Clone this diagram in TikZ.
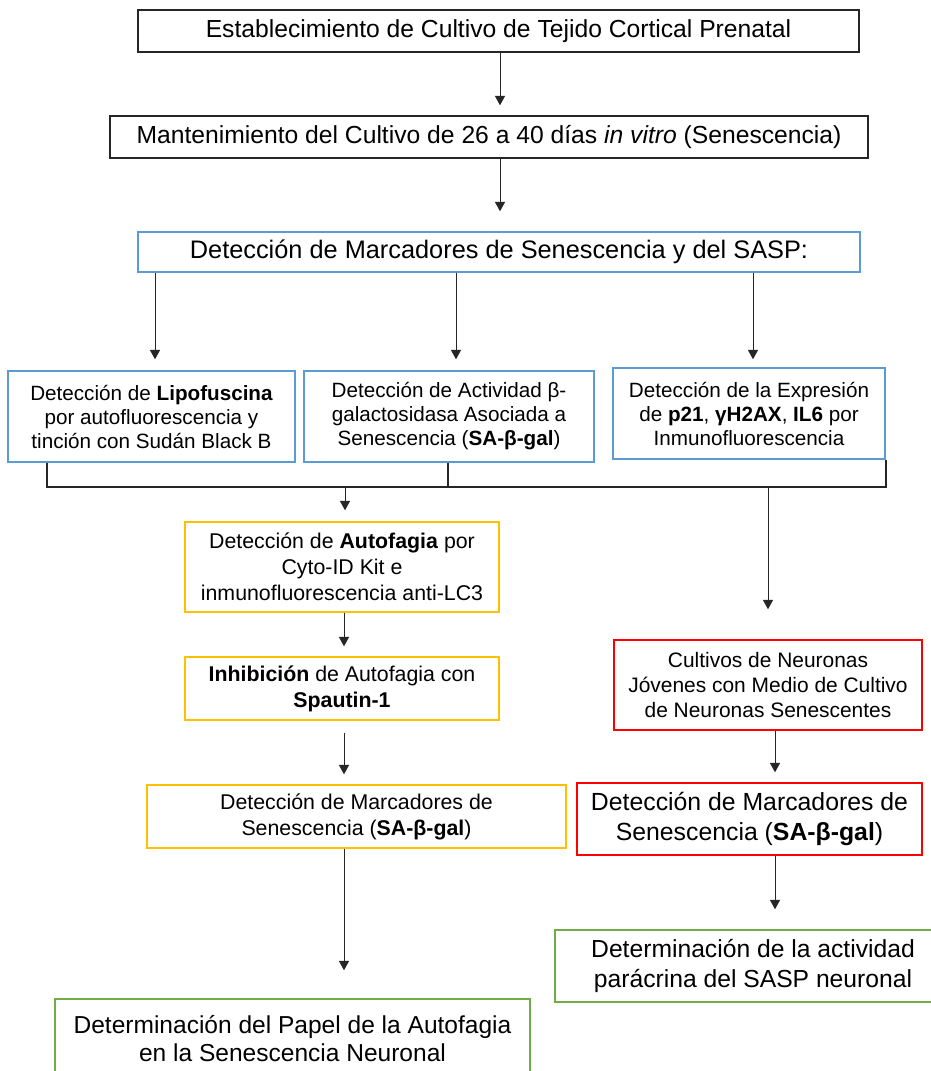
\documentclass[tikz,border=0pt]{standalone}
\usepackage{fontspec}
\setmainfont{Liberation Sans}
\usetikzlibrary{arrows.meta,calc}
\definecolor{bluebox}{HTML}{5B9BD5}
\definecolor{yellowbox}{HTML}{FFC000}
\definecolor{redbox}{HTML}{FF0000}
\definecolor{greenbox}{HTML}{70AD47}
\newcommand\pxu{0.75pt}
\begin{document}
\begin{tikzpicture}[x=0.75pt,y=-0.75pt,
  box/.style={draw, line width=1.1pt, inner sep=0pt, align=center},
  blackbox/.style={box, draw=black!85},
  bluefr/.style={box, draw=bluebox},
  yellowfr/.style={box, draw=yellowbox},
  redfr/.style={box, draw=redbox},
  greenfr/.style={box, draw=greenbox},
  arr/.style={-{Triangle[length=7pt,width=7.5pt]}, line width=0.75pt, draw=black!85},
  conn/.style={line width=0.9pt, draw=black!85},
  fbig/.style={font=\fontsize{18.5}{22}\selectfont},
  fmid/.style={font=\fontsize{16}{19.5}\selectfont},
  fsmall/.style={font=\fontsize{15.5}{18}\selectfont}
]
\fill[white] (0,0) rectangle (931,1071);
\useasboundingbox (0,0) rectangle (931,1071);

% top chain
\node[blackbox, fbig, minimum width=721*\pxu, minimum height=42*\pxu] (top) at (498.5,31)
  {Establecimiento de Cultivo de Tejido Cortical Prenatal};
\node[blackbox, fbig, minimum width=758*\pxu, minimum height=42*\pxu] (mant) at (489,137)
  {Mantenimiento del Cultivo de 26 a 40 días \textit{in vitro} (Senescencia)};
\node[bluefr, font=\fontsize{19}{22}\selectfont, minimum width=722*\pxu, minimum height=40*\pxu] (sasp) at (499,252)
  {Detección de Marcadores de Senescencia y del SASP:};

% three blue boxes
\node[bluefr, fsmall, minimum width=287*\pxu, minimum height=91*\pxu] (lipo) at (151.5,416.5)
  {Detección de \textbf{Lipofuscina}\\por autofluorescencia y\\tinción con Sudán Black B};
\node[bluefr, fsmall, minimum width=290*\pxu, minimum height=91*\pxu] (beta) at (449,416.5)
  {Detección de Actividad β-\\galactosidasa Asociada a\\Senescencia (\textbf{SA-β-gal})};
\node[bluefr, fsmall, minimum width=272*\pxu, minimum height=91*\pxu] (expr) at (749,413.5)
  {Detección de la Expresión\\de \textbf{p21}, \textbf{γH2AX}, \textbf{IL6} por\\Inmunofluorescencia};

% left branch (yellow)
\node[yellowfr, fmid, minimum width=314*\pxu, minimum height=90*\pxu] (auto) at (342,567)
  {Detección de \textbf{Autofagia} por\\Cyto-ID Kit e\\inmunofluorescencia anti-LC3};
\node[yellowfr, fmid, minimum width=314*\pxu, minimum height=63*\pxu] (inhib) at (342,688.5)
  {\textbf{Inhibición} de Autofagia con\\\textbf{Spautin-1}};
\node[yellowfr, fmid, minimum width=419*\pxu, minimum height=63*\pxu] (marcL) at (356.5,816.5)
  {Detección de Marcadores de\\Senescencia (\textbf{SA-β-gal})};
\node[greenfr, font=\fontsize{18.4}{21}\selectfont, minimum width=475*\pxu, minimum height=80*\pxu] (papel) at (292.5,1039)
  {Determinación del Papel de la Autofagia\\en la Senescencia Neuronal};

% right branch (red)
\node[redfr, font=\fontsize{15.7}{19}\selectfont, minimum width=308*\pxu, minimum height=90*\pxu] (cult) at (768,685)
  {Cultivos de Neuronas\\Jóvenes con Medio de Cultivo\\de Neuronas Senescentes};
\node[redfr, font=\fontsize{18.6}{22.5}\selectfont, minimum width=345*\pxu, minimum height=72*\pxu] (marcR) at (749.5,819)
  {Detección de Marcadores de\\Senescencia (\textbf{SA-β-gal})};
\node[greenfr, font=\fontsize{18.5}{23}\selectfont, minimum width=396*\pxu, minimum height=72*\pxu] (parac) at (753,966)
  {Determinación de la actividad\\parácrina del SASP neuronal};

% top arrows
\coordinate (xa) at (500,0);
\draw[arr, shorten >=10*\pxu] (xa |- top.south) -- (xa |- mant.north);
\draw[arr, shorten >=20*\pxu] (xa |- mant.south) -- (xa |- sasp.north);

% fan out
\coordinate (f1) at (155,0);
\coordinate (f2) at (456,0);
\coordinate (f3) at (753,0);
\draw[arr, shorten >=11*\pxu] (f1 |- sasp.south) -- (f1 |- lipo.north);
\draw[arr, shorten >=11*\pxu] (f2 |- sasp.south) -- (f2 |- beta.north);
\draw[arr, shorten >=8*\pxu] (f3 |- sasp.south) -- (f3 |- expr.north);

% bracket bus
\coordinate (busL) at (47,487);
\coordinate (busR) at (886,487);
\coordinate (busB) at (448,487);
\draw[conn] (busL |- lipo.south) -- (busL) -- (busR) -- (busR |- expr.south);
\draw[conn] (busB |- beta.south) -- (busB);

% from bus down
\coordinate (j1) at (345,487);
\coordinate (j2) at (768,487);
\draw[arr, shorten >=11*\pxu] (j1) -- (j1 |- auto.north);
\draw[arr, shorten >=30*\pxu] (j2) -- (j2 |- cult.north);

% left chain
\coordinate (xl) at (344,0);
\draw[arr, shorten >=10*\pxu] (xl |- auto.south) -- (xl |- inhib.north);
\draw[arr, shorten <=12*\pxu, shorten >=10*\pxu] (xl |- inhib.south) -- (xl |- marcL.north);
\draw[arr, shorten >=28*\pxu] (xl |- marcL.south) -- (xl |- papel.north);

% right chain
\coordinate (xr) at (775,0);
\draw[arr, shorten >=10*\pxu] (xr |- cult.south) -- (xr |- marcR.north);
\draw[arr, shorten >=20*\pxu] (xr |- marcR.south) -- (xr |- parac.north);
\end{tikzpicture}
\end{document}
